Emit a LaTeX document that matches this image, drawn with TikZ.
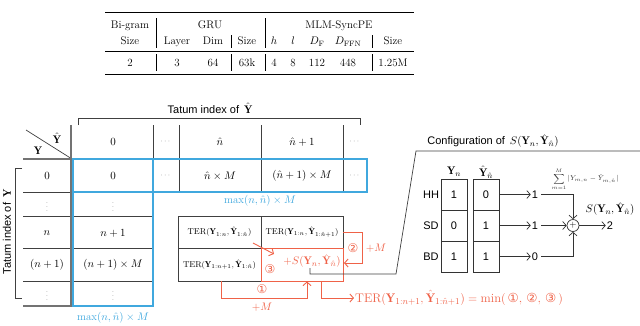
\documentclass[tikz,border=0pt]{standalone}
\usepackage{amsmath}
\usepackage{fontspec}
\usepackage{xcolor}
\usepackage{tikz}
\usetikzlibrary{arrows.meta, positioning, calc}
\newfontfamily\labelfont{Liberation Sans}
\newfontfamily\circfont{DejaVu Sans}
\definecolor{tatumblue}{RGB}{64,168,222}
\definecolor{terred}{RGB}{239,98,72}
\newcommand{\cnum}[1]{{\circfont #1}}

\begin{document}
\begin{tikzpicture}[x=1pt, y=-1pt,
        txt/.style={font=\fontsize{11}{12}\selectfont, inner sep=0pt, anchor=base},
        cell/.style={font=\fontsize{11}{13}\selectfont, inner sep=1pt},
        ter/.style={font=\fontsize{8.5}{10}\selectfont, inner sep=0pt},
        sans/.style={font=\labelfont\fontsize{11}{13}\selectfont, inner sep=1pt},
        dots/.style={font=\fontsize{8}{10}\selectfont, text=black!50, inner sep=1pt},
        circ/.style={font=\fontsize{12}{13}\selectfont, text=terred, inner sep=0pt},
        grid/.style={draw=black!75, line width=0.7pt},
        heavy/.style={draw=black!55, line width=1.8pt},
        blueln/.style={draw=tatumblue, line width=1.1pt},
        redln/.style={draw=terred, line width=0.9pt},
        redarr/.style={redln, -{Straight Barb[length=3.5pt,width=8pt]}},
        arr/.style={draw=black!80, line width=0.7pt, -{Straight Barb[length=3.5pt,width=8pt]}},
        box/.style={draw=black!80, line width=0.7pt, minimum width=26pt, minimum height=31pt,
                inner sep=0pt, font=\labelfont\fontsize{11}{13}\selectfont}
        ]
        \useasboundingbox (0,0) rectangle (640,325);

        % Hyperparameter table
        \draw[line width=0.8pt] (105,12.7) -- (414,12.7);
        \draw[line width=0.5pt] (105,51) -- (414,51);
        \draw[line width=0.8pt] (105,74) -- (414,74);
        \foreach \x/\t in {156/18, 231/35, 265/18, 372/35} {
                \draw[line width=0.4pt] (\x,\t) -- (\x,48);
                \draw[line width=0.4pt] (\x,54) -- (\x,71);
            }
        \node[txt] (bigram) at (130,28) {Bi-gram};
        \node[txt] (gru)    at (210,28) {GRU};
        \node[txt] (mlm)    at (339,28) {MLM-SyncPE};
        \foreach \x/\t [count=\i] in {130/Size, 177/Layer, 213/Dim, 247/Size, 274/$h$, 293/$l$,
                317/$D_{\mathrm{F}}$, 348/$D_{\mathrm{FFN}}$, 393/Size} {
                \node[txt] (head\i) at (\x,44.5) {\t};
            }
        \foreach \x/\t [count=\i] in {130/2, 177/3, 213/64, 247/63k, 274/4, 293/8,
                317/112, 348/448, 393/1.25M} {
                \node[txt] (val\i) at (\x,66.5) {\t};
            }

        % Tatum index labels and brackets
        \node[sans] (tatumhat) at (210,108) {Tatum index of \,$\hat{\mathbf{Y}}$};
        \draw[grid, line width=0.6pt] (78,125) -- (78,118) -- (360,118) -- (360,125);
        \node[sans, rotate=90] (tatumy) at (7,232) {Tatum index of \,$\mathbf{Y}$};
        \draw[grid, line width=0.6pt] (22,168) -- (15,168) -- (15,298) -- (22,298);

        % Corner cell
        \draw[grid] (26,130) -- (72,159);
        \node[cell] (cyhat) at (57,138) {$\hat{\mathbf{Y}}$};
        \node[cell] (cy)    at (38,151) {$\mathbf{Y}$};

        % Grid lines
        \draw[grid] (153,125) -- (153,159);
        \foreach \x in {179,261,343} \draw[grid] (\x,125) -- (\x,192);
        \draw[grid] (23,192) -- (72,192);
        \foreach \y in {216,248,281} \draw[grid] (23,\y) -- (153,\y);
        \draw[heavy] (23,159) -- (72,159);
        \draw[heavy, line width=1.2pt] (23,306) -- (72,306);
        \draw[heavy] (71,125) -- (71,306);
        \draw[blueln] (73,159) rectangle (367,192);
        \draw[blueln] (73,159) rectangle (153,306);

        % Header row
        \node[cell] (h0)   at (113,142) {$0$};
        \node[dots] (hd1)  at (166,142) {$\cdots$};
        \node[cell] (hn)   at (220,142) {$\hat{n}$};
        \node[cell] (hn1)  at (302,142) {$\hat{n}+1$};
        \node[dots] (hd2)  at (355,142) {$\cdots$};

        % Row 0
        \node[cell] (r0)   at (47,176)  {$0$};
        \node[cell] (c00)  at (113,176) {$0$};
        \node[dots] (cd1)  at (166,176) {$\cdots$};
        \node[cell] (c0n)  at (220,176) {$\hat{n}\times M$};
        \node[cell] (c0n1) at (302,176) {$(\hat{n}+1)\times M$};
        \node[dots] (cd2)  at (355,176) {$\cdots$};
        \node[cell, text=tatumblue] (maxrow) at (260,201) {$\max(n,\hat{n})\times M$};

        % Column 0
        \node[dots] (rv1)  at (47,204)  {$\vdots$};
        \node[cell] (rn)   at (47,233)  {$n$};
        \node[cell] (rn1)  at (47,265)  {$(n+1)$};
        \node[dots] (rv2)  at (47,293)  {$\vdots$};
        \node[dots] (cv1)  at (113,204) {$\vdots$};
        \node[cell] (cn)   at (113,233) {$n+1$};
        \node[cell] (cn1)  at (113,265) {$(n+1)\times M$};
        \node[dots] (cv2)  at (113,293) {$\vdots$};
        \node[cell, text=tatumblue] (maxcol) at (113,318) {$\max(n,\hat{n})\times M$};

        % TER recursion
        \node[ter] (t11) at (219.5,232)   {$\mathrm{TER}(\mathbf{Y}_{1:n},\hat{\mathbf{Y}}_{1:\hat{n}})$};
        \node[ter] (t12) at (302,232)     {$\mathrm{TER}(\mathbf{Y}_{1:n},\hat{\mathbf{Y}}_{1:\hat{n}+1})$};
        \node[ter] (t21) at (219.5,264.5) {$\mathrm{TER}(\mathbf{Y}_{1:n+1},\hat{\mathbf{Y}}_{1:\hat{n}})$};
        \coordinate (t12e) at (343,232);
        \coordinate (t22e) at (344,263);
        \draw[grid] (178,216) rectangle (343,281);
        \draw[grid] (261,216) -- (261,248);
        \draw[grid] (178,248) -- (261,248);
        \draw[redln] (261,248) rectangle (343,281);
        \node[cell, text=terred] (sterm) at (312,261) {$+S(\mathbf{Y}_n,\hat{\mathbf{Y}}_{\hat{n}})$};

        \coordinate (a3s) at (253,243);
        \coordinate (a3e) at (274,254);
        \draw[redarr] (a3s) -- (a3e);
        \node[circ] (n3) at (270,269) {\cnum{③}};

        \draw[redarr] (t12e) -- ++(19,0) |- (t22e);
        \node[circ] (n2) at (353,248) {\cnum{②}};
        \node[cell, text=terred] (pm2) at (376,248) {$+M$};

        \coordinate (a1s) at (221,281);
        \coordinate (a1e) at (307,281.5);
        \draw[redarr] (a1s) -- ++(0,17) -| (a1e);
        \node[circ] (n1) at (262,289) {\cnum{①}};
        \node[cell, text=terred] (pm1) at (262,307) {$+M$};

        \node[cell, text=terred, anchor=west, font=\fontsize{12.5}{14}\selectfont] (res) at (354,298)
        {$\mathrm{TER}(\mathbf{Y}_{1:n+1},\hat{\mathbf{Y}}_{1:\hat{n}+1})=\min($\,\cnum{①}, \cnum{②}, \cnum{③}\,$)$};
        \coordinate (outs) at (321,281);
        \draw[redarr] (outs) |- (res.west);

        % Configuration of S
        \node[sans] (config) at (493,141) {Configuration of \,$S(\mathbf{Y}_n,\hat{\mathbf{Y}}_{\hat{n}})$};
        \coordinate (link) at (310,268);
        \coordinate (trb)  at (396,274);
        \coordinate (trt)  at (416,151);
        \coordinate (tre)  at (640,151);
        \draw[grid] (link) |- (trb) -- (trt) -- (tre);

        \node[cell] (ynhead) at (454,172) {$\mathbf{Y}_n$};
        \node[cell] (yhhead) at (486,172) {$\hat{\mathbf{Y}}_{\hat{n}}$};
        \foreach \lab/\a/\b/\v/\y [count=\i] in {HH/1/0/1/194.5, SD/0/1/1/225.5, BD/1/1/0/256.5} {
                \node[sans] (lab\i) at (431,\y) {\lab};
                \node[box]  (yn\i)  at (454,\y) {\a};
                \node[box]  (yh\i)  at (486,\y) {\b};
                \node[sans] (v\i)   at (535,\y) {\v};
                \draw[arr] (yh\i.east) -- (v\i.west);
            }
        \node[circle, draw=black!80, line width=0.7pt, minimum size=12pt, inner sep=0pt,
            font=\fontsize{9}{9}\selectfont] (plus) at (573,225.5) {$+$};
        \draw[arr, shorten <=2pt] (v1.east) -| (plus.north);
        \draw[arr, shorten <=2pt] (v2.east) -- (plus.west);
        \draw[arr, shorten <=2pt] (v3.east) -| (plus.south);
        \node[sans] (out) at (610,225.5) {2};
        \draw[arr] (plus.east) -- (out.west);
        \node[font=\fontsize{7}{8}\selectfont, text=black!80] (sumlab) at (585,179)
        {$\displaystyle\sum_{m=1}^{M}|Y_{m,n}-\hat{Y}_{m,\hat{n}}|$};
        \node[cell] (slab) at (610,209) {$S(\mathbf{Y}_n,\hat{\mathbf{Y}}_{\hat{n}})$};
    \end{tikzpicture}
\end{document}
